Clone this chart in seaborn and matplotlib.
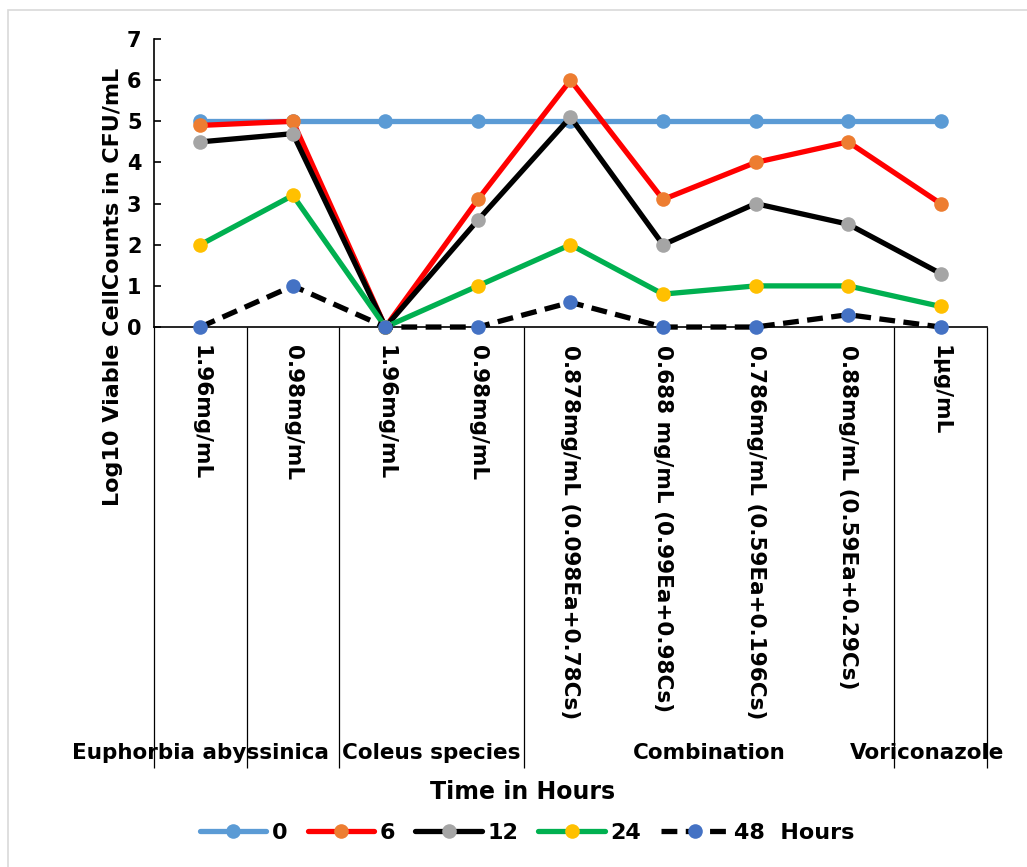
import matplotlib
matplotlib.use("Agg")
import matplotlib.pyplot as plt
from matplotlib.patches import Rectangle
import seaborn as sns
import pandas as pd
import numpy as np

# Treatment concentrations (x-axis categories)
categories = [
    "1.96mg/mL", "0.98mg/mL", "1.96mg/mL", "0.98mg/mL",
    "0.878mg/mL (0.098Ea+0.78Cs)", "0.688 mg/mL (0.99Ea+0.98Cs)",
    "0.786mg/mL (0.59Ea+0.196Cs)", "0.88mg/mL (0.59Ea+0.29Cs)", "1μg/mL",
]
groups = ["Euphorbia abyssinica", "Coleus species", "Combination", "Voriconazole"]

# Log10 viable counts per time point (hours)
hours_0 = [5, 5, 5, 5, 5, 5, 5, 5, 5]
hours_6 = [4.9, 5.0, 0, 3.1, 6.0, 3.1, 4.0, 4.5, 3.0]
hours_12 = [4.5, 4.7, 0, 2.6, 5.1, 2.0, 3.0, 2.5, 1.3]
hours_24 = [2.0, 3.2, 0, 1.0, 2.0, 0.8, 1.0, 1.0, 0.5]
hours_48 = [0, 1.0, 0, 0, 0.6, 0, 0, 0.3, 0]
series_labels = ["0", "6", "12", "24", "48  Hours"]

sns.set_style("white")
plt.rcParams["font.family"] = ["DejaVu Sans"]
plt.rcParams["font.weight"] = "bold"
plt.rcParams["text.color"] = "black"
plt.rcParams["xtick.color"] = "black"
plt.rcParams["ytick.color"] = "black"

fig = plt.figure(figsize=(10.27, 8.67), dpi=100)
ax = fig.add_axes([0.150, 0.6228, 0.811, 0.3322])

# Thin grey frame around the chart area
fig.patches.append(Rectangle((8 / 1027, -0.1), 1.2, 1 - 10 / 867 + 0.1,
                             transform=fig.transFigure, fill=False,
                             edgecolor="#d9d9d9", linewidth=1.2, zorder=0))

x = np.arange(len(categories))
styles = [
    dict(color="#5B9BD5", mfc="#5B9BD5", ls="-"),
    dict(color="#FF0000", mfc="#ED7D31", ls="-"),
    dict(color="#000000", mfc="#A5A5A5", ls="-"),
    dict(color="#00B050", mfc="#FFC000", ls="-"),
    dict(color="#000000", mfc="#4472C4", ls=(0, (3.0, 1.6))),
]
all_series = [hours_0, hours_6, hours_12, hours_24, hours_48]

for i, (vals, st, lab) in enumerate(zip(all_series, styles, series_labels)):
    df = pd.DataFrame({"pos": x, "value": vals})
    sns.lineplot(data=df, x="pos", y="value", ax=ax, sort=False,
                 color=st["color"], linewidth=3.8, linestyle=st["ls"],
                 marker="o", markersize=10.5, markerfacecolor=st["mfc"],
                 markeredgecolor=st["mfc"], markeredgewidth=0,
                 label=lab, zorder=3 + i, clip_on=False)

ax.set_xlim(-0.5, len(categories) - 0.5)
ax.set_ylim(0, 7)
ax.set_yticks(range(0, 8))
ax.set_yticklabels([str(v) for v in range(0, 8)], fontsize=15, fontweight="bold")
ax.tick_params(axis="y", direction="in", length=5, width=1.2, pad=9, left=True)
ax.set_xticks(x)
ax.set_xticklabels(categories, rotation=270, fontsize=15.5, fontweight="bold",
                   ha="center", va="top")
ax.tick_params(axis="x", length=0, pad=13)
ax.set_xlabel("")
ax.set_ylabel("")

for side in ["top", "right"]:
    ax.spines[side].set_visible(False)
for side in ["left", "bottom"]:
    ax.spines[side].set_linewidth(1.2)
    ax.spines[side].set_color("black")
if ax.get_legend():
    ax.get_legend().remove()

# Category dividers running down through the group label row
trans = ax.get_xaxis_transform()
dividers = [-0.5, 0.5, 1.5, 3.5, 7.5, 8.5]
ax.vlines(dividers, -1.53, 0, transform=trans, colors="black",
          linewidth=0.9, clip_on=False)

# Group labels
group_pos = [0.0, 2.5, 5.5, 7.85]
for gx, g in zip(group_pos, groups):
    ax.text(gx, -1.48, g, transform=trans, ha="center", va="center",
            fontsize=15.5, fontweight="bold")

fig.text(523 / 1027, 1 - 792 / 867, "Time in Hours", ha="center", va="center",
         fontsize=17, fontweight="bold")
fig.text(113 / 1027, 1 - 287 / 867, "Log10 Viable CellCounts in CFU/mL",
         rotation=90, ha="center", va="center", fontsize=16, fontweight="bold")

handles, labels = ax.get_legend_handles_labels()
fig.legend(handles, labels, loc="center", bbox_to_anchor=(0.513, 1 - 833 / 867),
           ncol=5, frameon=False, handlelength=3.0, handletextpad=0.25,
           columnspacing=0.9, prop=dict(size=16, weight="bold"))

fig.savefig("out.png", dpi=100)
